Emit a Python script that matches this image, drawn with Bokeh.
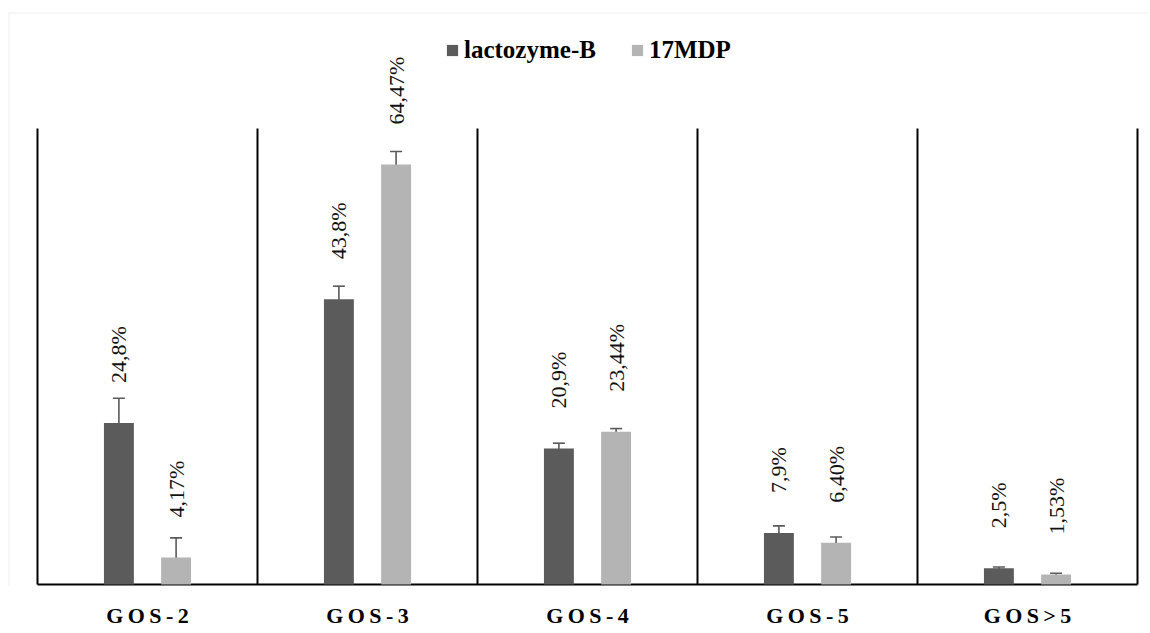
import math
from bokeh.plotting import figure
from bokeh.models import (ColumnDataSource, FixedTicker, Range1d, Legend,
                          LegendItem, Whisker, TeeHead, BoxAnnotation)
from bokeh.core.properties import value
from bokeh.embed import file_html
from bokeh.resources import INLINE

categories = ["GOS-2", "GOS-3", "GOS-4", "GOS-5", "GOS>5"]
tick_labels = ["G\u2009O\u2009S\u2009-\u20092", "G\u2009O\u2009S\u2009-\u20093",
               "G\u2009O\u2009S\u2009-\u20094", "G\u2009O\u2009S\u2009-\u20095",
               "G\u2009O\u2009S\u2009>\u20095"]
series_names = ["lactozyme-B", "17MDP"]
lacto_values = [24.8, 43.8, 20.9, 7.9, 2.5]
lacto_errors = [3.8, 2.0, 0.8, 1.1, 0.2]
lacto_labels = ["24,8%", "43,8%", "20,9%", "7,9%", "2,5%"]
mdp_values = [4.17, 64.47, 23.44, 6.40, 1.53]
mdp_errors = [3.0, 2.0, 0.5, 0.9, 0.2]
mdp_labels = ["4,17%", "64,47%", "23,44%", "6,40%", "1,53%"]
axis_max = 70

DARK = "#5b5b5b"
LIGHT = "#b4b4b4"
ERR = "#5a5a5a"
SERIF = "'Liberation Serif', 'Times New Roman', serif"

W, H = 1148, 630
p = figure(width=W, height=H, output_backend="svg", toolbar_location=None,
           x_range=Range1d(-0.16818, 5.05), y_range=Range1d(-0.3, 89.65),
           min_border_left=0, min_border_right=0, min_border_top=0, min_border_bottom=44)
p.outline_line_color = None
p.background_fill_color = "white"
p.border_fill_color = "white"

n = len(categories)
centers = [i + 0.5 for i in range(n)]
off = 0.13
bw = 0.136

# frame lines: category separators and baseline
bounds = list(range(n + 1))
p.segment(x0=bounds, y0=[0] * (n + 1), x1=bounds, y1=[axis_max] * (n + 1),
          line_color="black", line_width=2)
p.segment(x0=[0], y0=[0], x1=[n], y1=[0], line_color="black", line_width=2)

def make_src(vals, errs, labels, sign):
    xs = [c + sign * off for c in centers]
    return ColumnDataSource(dict(
        x=xs, top=vals, upper=[v + e for v, e in zip(vals, errs)],
        lower=[v - e for v, e in zip(vals, errs)], label=labels))

src_a = make_src(lacto_values, lacto_errors, lacto_labels, -1)
src_b = make_src(mdp_values, mdp_errors, mdp_labels, +1)

ra = p.vbar(x="x", top="top", bottom=0, width=bw, source=src_a, fill_color=DARK, line_color=None)
rb = p.vbar(x="x", top="top", bottom=0, width=bw, source=src_b, fill_color=LIGHT, line_color=None)

for src in (src_a, src_b):
    w = Whisker(source=src, base="x", upper="upper", lower="lower",
                line_color=ERR, line_width=1.6,
                upper_head=TeeHead(size=12, line_color=ERR, line_width=1.6),
                lower_head=TeeHead(size=12, line_color=ERR, line_width=1.6))
    p.add_layout(w)
    p.text(x="x", y="top", text="label", source=src, angle=math.pi / 2,
           text_align="left", text_baseline="middle", y_offset=-40,
           text_font=value(SERIF), text_font_size="22px", text_color="#111111")

# axes
p.yaxis.visible = False

p.xaxis.ticker = FixedTicker(ticks=centers)
p.xaxis.major_label_overrides = {c: t for c, t in zip(centers, tick_labels)}
p.xaxis.major_tick_out = 0
p.xaxis.major_tick_in = 0
p.xaxis.minor_tick_out = 0
p.xaxis.minor_tick_in = 0
p.xaxis.major_label_standoff = 16
p.xaxis.major_label_text_font = SERIF
p.xaxis.major_label_text_font_style = "bold"
p.xaxis.major_label_text_font_size = "22px"
p.xaxis.major_label_text_color = "black"
p.xaxis.axis_line_color = None

p.xgrid.grid_line_color = None
p.ygrid.grid_line_color = None

legend = Legend(items=[LegendItem(label=series_names[0], renderers=[ra]),
                       LegendItem(label=series_names[1], renderers=[rb])],
                orientation="horizontal", location=(445, 522),
                label_text_font=SERIF, label_text_font_style="bold",
                label_text_font_size="25px", label_text_color="black",
                glyph_width=14, glyph_height=14, label_standoff=5, spacing=34,
                padding=0, margin=0, border_line_color=None, background_fill_alpha=0)
p.add_layout(legend, "center")

border = BoxAnnotation(left=8.5, right=W + 20, top=12.5, bottom=H + 20,
                       left_units="canvas", right_units="canvas",
                       top_units="canvas", bottom_units="canvas",
                       fill_alpha=0, fill_color=None, line_color="#d9d9d9", line_width=1.5)
p.add_layout(border)

open("out.html", "w").write(file_html(p, INLINE))
